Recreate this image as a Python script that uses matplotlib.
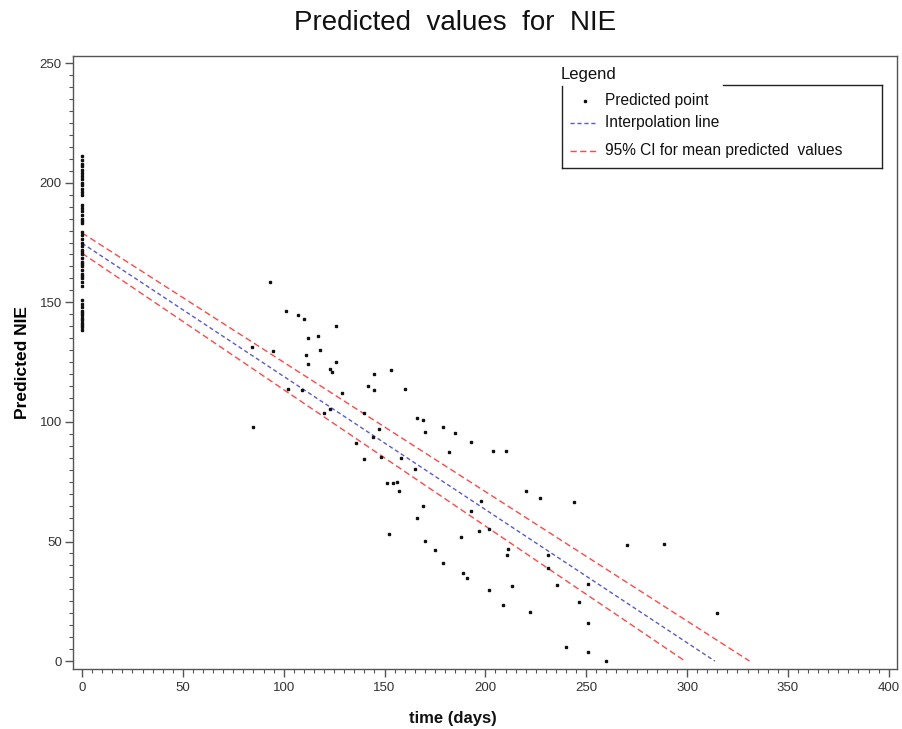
import matplotlib
matplotlib.use("Agg")
import matplotlib.pyplot as plt
from matplotlib.lines import Line2D
from matplotlib.ticker import MultipleLocator

plt.rcParams['font.family'] = ['Liberation Sans', 'DejaVu Sans']

# ---- data ----
# predicted points at time 0
t0_values = [211, 209.5, 208, 207, 205.5, 204, 203, 201.5, 200, 199, 197.5, 196, 195,
             190.5, 189.5, 188, 186.5, 185, 184, 183, 179.5, 178, 176.5, 175, 173.5,
             172, 171, 170, 168.5, 167, 166, 165, 163.5, 162, 161, 160, 158.5, 157,
             151, 149.5, 148, 146.5, 145.5, 144.5, 143.5, 142.5, 141.5, 140.5, 139.5, 138.5]

time_days = [84.7, 84.2, 93, 94.9, 101.1, 107, 110, 112, 117, 126, 111, 111.9, 118, 126,
             122.9, 123.9, 102.1, 109.2, 129, 120, 123, 140, 145, 142, 144.9, 153, 160,
             135.8, 140, 144.2, 147, 148, 158.2, 166, 169, 169.8, 165, 178.9, 185, 193,
             181.8, 204, 210, 220, 226.9, 243.9, 198, 192.9, 169, 166, 188, 197, 202,
             169.8, 174.9, 178.9, 189.1, 191, 201.8, 213, 211, 210.7, 208.9, 221.9,
             230.8, 230.8, 235.6, 251, 246.2, 270, 288.7, 251.1, 239.8, 251.1, 260,
             314.9, 151.1, 154, 156.1, 157, 152]
nie_values = [97.8, 131.3, 158.5, 129.5, 146.4, 144.8, 143, 135.2, 135.9, 140, 127.9, 124.2,
              130.1, 125, 122.2, 120.8, 113.7, 113.3, 112.2, 103.6, 105.5, 103.6, 120.1,
              115.1, 113.3, 121.7, 113.6, 91.3, 84.6, 93.9, 97, 85.3, 85, 101.8, 100.9,
              95.9, 80.5, 97.7, 95.3, 91.7, 87.5, 87.9, 87.9, 71.2, 68.3, 66.5, 66.9,
              62.7, 64.9, 60, 52, 54.5, 55.3, 50.2, 46.5, 41, 37, 34.9, 29.7, 31.4, 46.8,
              44.3, 23.3, 20.4, 44.3, 39, 32, 32.3, 24.8, 48.7, 49.1, 16, 6.1, 4.0, 0,
              20.2, 74.4, 74.4, 75, 71, 53.2]

fit_x = [0, 313.8]
fit_y = [174.7, 0]
ci_upper_x = [0, 331]
ci_upper_y = [179, 0]
ci_lower_x = [0, 299]
ci_lower_y = [170.5, 0]

legend_labels = ["Predicted point", "Interpolation line", "95% CI for mean predicted  values"]

# ---- figure ----
W, H = 902, 729
fig = plt.figure(figsize=(W / 100, H / 100), dpi=100)
ax = fig.add_axes([73 / W, 1 - 669 / H, (897 - 73) / W, (669 - 55.7) / H])

def fx(px):
    return px / W

def fy(py):
    return 1 - py / H

blue = "#5a5ad0"
red = "#ff4848"

ax.plot([0] * len(t0_values), t0_values, ls='none', marker='s', ms=1.6, color='#111111',
        mec='#111111', zorder=3)
ax.plot(time_days, nie_values, ls='none', marker='s', ms=1.9, color='#111111',
        mec='#111111', zorder=3)
ax.plot(fit_x, fit_y, color=blue, lw=1.0, dashes=(3, 2), zorder=2)
ax.plot(ci_upper_x, ci_upper_y, color=red, lw=1.0, dashes=(4.5, 2.5), zorder=2)
ax.plot(ci_lower_x, ci_lower_y, color=red, lw=1.0, dashes=(4.5, 2.5), zorder=2)

ax.set_xlim(-4.5, 404.1)
ax.set_ylim(-3.3, 253.1)
ax.xaxis.set_major_locator(MultipleLocator(50))
ax.xaxis.set_minor_locator(MultipleLocator(5))
ax.yaxis.set_major_locator(MultipleLocator(50))
ax.yaxis.set_minor_locator(MultipleLocator(5))

spine_c = "#555555"
for s in ax.spines.values():
    s.set_color(spine_c)
    s.set_linewidth(1.0)
ax.tick_params(which='major', length=6, width=1, color=spine_c, labelsize=9.5,
               labelcolor='#333333', direction='out')
ax.tick_params(which='minor', length=3, width=0.8, color=spine_c, direction='out')
ax.tick_params(axis='y', which='major', pad=2)

ax.set_ylabel("Predicted NIE", fontsize=12.5, fontweight='bold', labelpad=7)
fig.text(fx(453), fy(718), "time (days)", ha='center', va='center', fontsize=12,
         fontweight='bold', color='#111111')

fig.text(fx(455), fy(23), "Predicted  values  for  NIE", ha='center', va='center',
         fontsize=20, color='#111111')

# ---- legend (drawn as in the reference) ----
lc = "#222222"
box_l, box_r, box_t, box_b = 562, 882, 86, 168
fig.add_artist(Line2D([fx(box_l), fx(box_l)], [fy(box_t), fy(box_b)], color=lc, lw=1))
fig.add_artist(Line2D([fx(box_r), fx(box_r)], [fy(box_t - 1), fy(box_b)], color=lc, lw=1))
fig.add_artist(Line2D([fx(box_l), fx(box_r)], [fy(box_b), fy(box_b)], color=lc, lw=1))
fig.add_artist(Line2D([fx(723), fx(box_r)], [fy(box_t - 1), fy(box_t - 1)], color=lc, lw=1))
fig.text(fx(561), fy(75), "Legend", ha='left', va='center', fontsize=12, color='#111111')

fig.add_artist(Line2D([fx(585)], [fy(101)], ls='none', marker='s', ms=1.6, color='#111111'))
fig.add_artist(Line2D([fx(570), fx(596)], [fy(123), fy(123)], color=blue, lw=1.0,
                      dashes=(3, 2)))
fig.add_artist(Line2D([fx(570), fx(596)], [fy(151), fy(151)], color=red, lw=1.0,
                      dashes=(4.5, 2.5)))
for label, py in zip(legend_labels, [100, 122, 150]):
    fig.text(fx(605), fy(py), label, ha='left', va='center', fontsize=11.2, color='#111111')

fig.savefig("out.png", dpi=100)
